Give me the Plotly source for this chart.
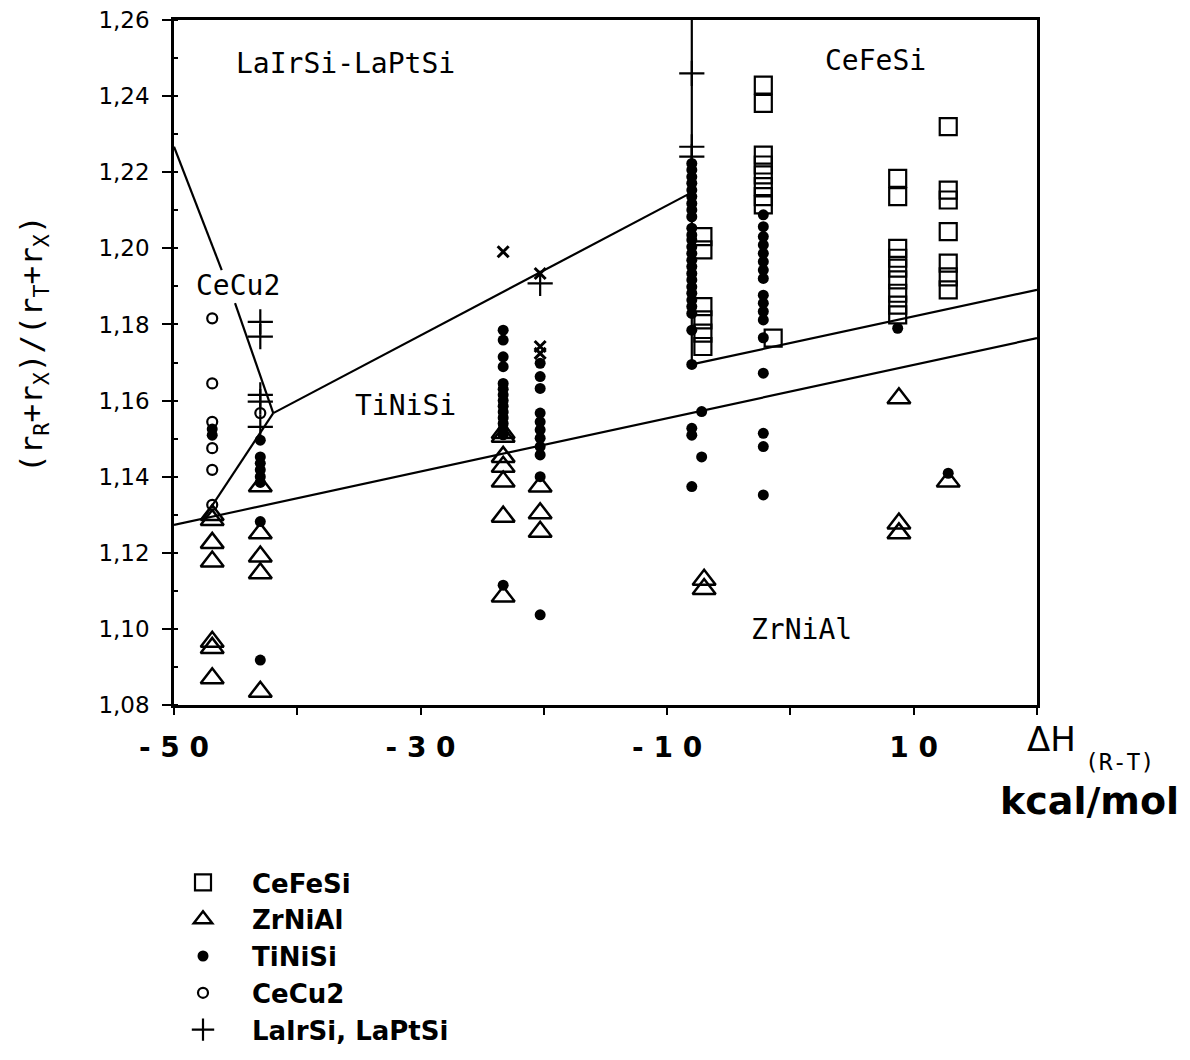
import plotly.graph_objects as go

# ---------------- data ----------------
cefesi_x = [-7.1]*6 + [-2.2]*8 + [-1.4] + [8.7]*9 + [12.8]*7
cefesi_y = [1.2031, 1.1996, 1.1847, 1.1812, 1.1777, 1.1742,
            1.2429, 1.2381, 1.2245, 1.2219, 1.2193, 1.2162, 1.2136, 1.2114,
            1.1764,
            1.2184, 1.2136, 1.2000, 1.1974, 1.1948, 1.1917, 1.1882, 1.1851, 1.1825,
            1.2320, 1.2153, 1.2127, 1.2044, 1.1961, 1.1925, 1.1891]

zrnial_x = [-46.9]*7 + [-43.0]*5 + [-23.3]*7 + [-20.3]*3 + [-7.0]*2 + [8.8]*3 + [12.8]
zrnial_y = [1.1299, 1.1286, 1.1226, 1.1177, 1.0966, 1.0950, 1.0870,
            1.1375, 1.1251, 1.1190, 1.1146, 1.0835,
            1.1505, 1.1515, 1.1452, 1.1426, 1.1387, 1.1295, 1.1085,
            1.1374, 1.1304, 1.1255,
            1.1129, 1.1105,
            1.1606, 1.1277, 1.1251,
            1.1387]

tinisi_x = ([-46.9]*2 + [-43.0]*8 + [-23.3]*15 + [-20.3]*11 + [-8.0]*28 +
            [-7.2]*2 + [-2.2]*17 + [8.7] + [12.8])
tinisi_y = [1.1525, 1.1509,
            1.1496, 1.1452, 1.1435, 1.1418, 1.1400, 1.1385, 1.1282, 1.0918,
            1.1785, 1.1759, 1.1715, 1.1689, 1.1645, 1.1630, 1.1615, 1.1600, 1.1585,
            1.1570, 1.1555, 1.1540, 1.1525, 1.1510, 1.1115,
            1.1698, 1.1663, 1.1632, 1.1567, 1.1544, 1.1523, 1.1501, 1.1479, 1.1457,
            1.1400, 1.1037,
            1.2223, 1.2206, 1.2188, 1.2171, 1.2153, 1.2136, 1.2118, 1.2101, 1.2083,
            1.2053, 1.2035, 1.2022, 1.2004, 1.1987, 1.1969, 1.1952, 1.1934, 1.1917,
            1.1899, 1.1882, 1.1864, 1.1847, 1.1829, 1.1785, 1.1695, 1.1527, 1.1509,
            1.1374,
            1.1571, 1.1452,
            1.2088, 1.2057, 1.2031, 1.2009, 1.1987, 1.1965, 1.1943, 1.1921, 1.1877,
            1.1856, 1.1834, 1.1812, 1.1765, 1.1672, 1.1514, 1.1479, 1.1352,
            1.1790,
            1.1409]

cecu2_x = [-46.9]*6 + [-43.0]
cecu2_y = [1.1816, 1.1645, 1.1544, 1.1475, 1.1418, 1.1326, 1.1567]

lairsi_x = [-43.0]*5 + [-20.3] + [-8.0]*3
lairsi_y = [1.1807, 1.1768, 1.1615, 1.1597, 1.1531, 1.1908, 1.2460, 1.2267, 1.2241]

xmark_x = [-23.3, -20.3, -20.3, -20.3]
xmark_y = [1.1991, 1.1934, 1.1742, 1.1724]

# boundary lines between structure fields
line_a_x = [-50.0, -46.13, None, -45.05, -41.95]
line_a_y = [1.2267, 1.1943, None, 1.1856, 1.1567]
line_b_x = [-47.6, -41.95]
line_b_y = [1.1290, 1.1567]
line_c_x = [-41.95, -8.0]
line_c_y = [1.1567, 1.2147]
line_d_x = [-8.0, -8.0]
line_d_y = [1.2600, 1.1695]
line_e_x = [-8.0, 20.0]
line_e_y = [1.1695, 1.1891]
line_f_x = [-50.0, 20.0]
line_f_y = [1.1273, 1.1764]

x_tickvals = [-50, -40, -30, -20, -10, 0, 10, 20]
x_ticktext = ["- 5 0", "", "- 3 0", "", "- 1 0", "", "1 0", ""]
y_tickvals = [1.08, 1.10, 1.12, 1.14, 1.16, 1.18, 1.20, 1.22, 1.24, 1.26]
y_ticktext = ["1,08", "1,10", "1,12", "1,14", "1,16", "1,18", "1,20", "1,22", "1,24", "1,26"]

# ---------------- figure ----------------
SANS = "DejaVu Sans, Liberation Sans, Arial, sans-serif"
MONO = "DejaVu Sans Mono, Liberation Mono, monospace"
fig = go.Figure()

for lx, ly in [(line_a_x, line_a_y), (line_b_x, line_b_y), (line_c_x, line_c_y),
               (line_d_x, line_d_y), (line_e_x, line_e_y), (line_f_x, line_f_y)]:
    fig.add_trace(go.Scatter(x=lx, y=ly, mode="lines", showlegend=False,
                             line=dict(color="black", width=2.2), hoverinfo="skip"))

fig.add_trace(go.Scatter(x=cefesi_x, y=cefesi_y, mode="markers", name="CeFeSi",
                         marker=dict(symbol="square-open", size=17, color="black",
                                     line=dict(width=2.2, color="black"))))
fig.add_trace(go.Scatter(x=zrnial_x, y=zrnial_y, mode="markers", name="ZrNiAl",
                         marker=dict(symbol="triangle-up-open", size=20, color="black",
                                     line=dict(width=2.5, color="black"))))
fig.add_trace(go.Scatter(x=tinisi_x, y=tinisi_y, mode="markers", name="TiNiSi",
                         marker=dict(symbol="circle", size=11, color="black")))
fig.add_trace(go.Scatter(x=cecu2_x, y=cecu2_y, mode="markers", name="CeCu2",
                         marker=dict(symbol="circle-open", size=10, color="black",
                                     line=dict(width=2.2, color="black"))))
fig.add_trace(go.Scatter(x=lairsi_x, y=lairsi_y, mode="markers", name="LaIrSi, LaPtSi",
                         marker=dict(symbol="cross-thin-open", size=18, color="black",
                                     line=dict(width=2.2, color="black"))))
fig.add_trace(go.Scatter(x=xmark_x, y=xmark_y, mode="markers", showlegend=False,
                         marker=dict(symbol="x-thin-open", size=11, color="black",
                                     line=dict(width=3, color="black"))))

# page has an 8px body margin: figure is drawn 8px in from the top-left
OFF = 8
W, H = 1190 - 2 * OFF, 1060 - 2 * OFF
# plot area in page pixels
PL, PR, PT, PB = 174, 1037, 20, 705
L, R, T, B = PL - OFF, PR - OFF, PT - OFF, PB - OFF
fig.update_layout(
    width=W, height=H,
    margin=dict(l=L, r=W - R, t=T, b=H - B, autoexpand=False),
    paper_bgcolor="white", plot_bgcolor="white",
    font=dict(family=SANS, color="black"),
    legend=dict(xref="container", yref="container", x=146 / W, y=1 - 851 / H,
                xanchor="left", yanchor="top", itemwidth=88, tracegroupgap=0,
                font=dict(size=26, family=SANS, color="black", weight="bold"),
                bgcolor="rgba(0,0,0,0)"),
)
fig.update_xaxes(range=[-50, 20], tickmode="array", tickvals=x_tickvals, ticktext=x_ticktext,
                 ticks="outside", ticklen=7, tickwidth=2, tickcolor="black",
                 showline=True, linewidth=2.5, linecolor="black", mirror=True,
                 showgrid=False, zeroline=False, ticklabelstandoff=9,
                 tickfont=dict(size=28, family=SANS, color="black", weight="bold"))
fig.update_yaxes(range=[1.08, 1.26], tickmode="array", tickvals=y_tickvals, ticktext=y_ticktext,
                 ticks="outside", ticklen=9, tickwidth=2, tickcolor="black",
                 showline=True, linewidth=2.5, linecolor="black", mirror=True,
                 showgrid=False, zeroline=False, ticklabelstandoff=8,
                 ticklabeloverflow="allow",
                 minor=dict(dtick=0.01, tick0=1.08, ticks="inside", ticklen=4, tickwidth=2,
                            tickcolor="black", showgrid=False),
                 tickfont=dict(size=23, family=SANS, color="black"))

def px(xp):  # page x -> paper fraction
    return (xp - PL) / (PR - PL)
def py(yp):  # page y -> paper fraction
    return (PB - yp) / (PB - PT)

label_font = dict(size=28, family=MONO, color="black")
annots = [
    dict(x=px(345), y=py(64), text="LaIrSi-LaPtSi", font=label_font),
    dict(x=px(875), y=py(60), text="CeFeSi", font=label_font),
    dict(x=px(237.5), y=py(285), text="CeCu2", font=label_font),
    dict(x=px(405), y=py(405), text="TiNiSi", font=label_font),
    dict(x=px(801), y=py(629), text="ZrNiAl", font=label_font),
    dict(x=px(33), y=py(344), textangle=-90,
         text="(r<sub>R</sub>+r<sub>X</sub>)/(r<sub>T</sub>+r<sub>X</sub>)",
         font=dict(size=31, family=MONO, color="black")),
    dict(x=px(1025), y=py(739), xanchor="left",
         text="ΔH", font=dict(size=34, family=SANS, color="black")),
    dict(x=px(1083), y=py(762), xanchor="left",
         text="(R-T)", font=dict(size=23, family=MONO, color="black")),
    dict(x=px(1181), y=py(801), xanchor="right",
         text="<b>kcal/mol</b>", font=dict(size=38, family=SANS, color="black")),
]
for a in annots:
    a.setdefault("showarrow", False)
    a.setdefault("xref", "paper")
    a.setdefault("yref", "paper")
    a.setdefault("xanchor", "center")
    a.setdefault("yanchor", "middle")
    fig.add_annotation(**a)

fig.write_html("out.html")
